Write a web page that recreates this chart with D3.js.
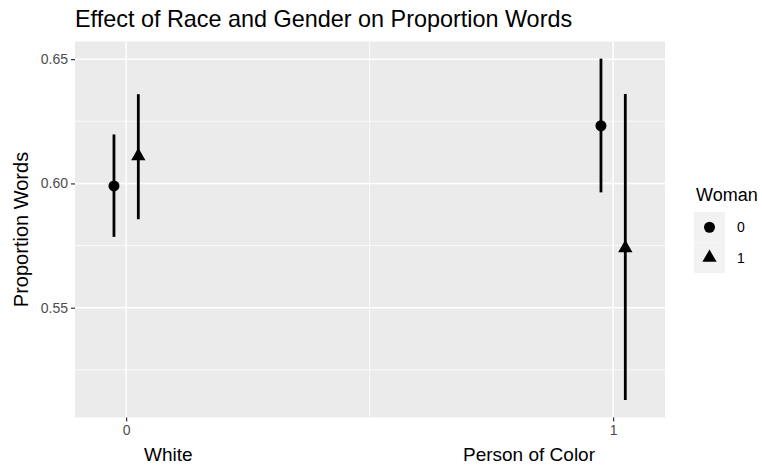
<!DOCTYPE html>
<html>
<head>
<meta charset="utf-8">
<script src="https://cdn.jsdelivr.net/npm/d3@7"></script>
<style>
  html, body { margin: 0; padding: 0; background: #ffffff; }
  svg { display: block; font-family: "Liberation Sans", Arial, Helvetica, sans-serif; }
</style>
</head>
<body>
<svg id="chart" width="762" height="466"></svg>
<script>
// Estimates of the proportion of words, by race (x) and gender (shape)
const raceCodes   = [0, 1];
const raceNames   = ["White", "Person of Color"];
const womanLevels = ["0", "1"];
const dodgeOffset = [-0.025, 0.025];           // position_dodge for woman = 0 / 1
const estimate    = [[0.599, 0.611], [0.6232, 0.574]];   // [race][woman]
const lower       = [[0.5785, 0.5856], [0.5964, 0.5129]];
const upper       = [[0.6197, 0.6359], [0.6502, 0.6360]];
const yTicks      = [0.55, 0.60, 0.65];
const yMinor      = [0.525, 0.575, 0.625];
const xTicks      = [0, 1];
const xMinor      = [0.5];

const rows = [];
raceCodes.forEach((r, i) => womanLevels.forEach((w, j) => {
  rows.push({ race: r, woman: w, x: r + dodgeOffset[j], est: estimate[i][j], lo: lower[i][j], hi: upper[i][j] });
}));

const svg = d3.select("#chart");
const panel = { left: 75, right: 665, top: 41.5, bottom: 417.5 };

const x = d3.scaleLinear().domain([-0.105, 1.1065]).range([panel.left, panel.right]);
const y = d3.scaleLinear().domain([0.50585, 0.65709]).range([panel.bottom, panel.top]);

// panel background
svg.append("rect")
  .attr("x", panel.left).attr("y", panel.top)
  .attr("width", panel.right - panel.left).attr("height", panel.bottom - panel.top)
  .attr("fill", "#ebebeb");

const grid = svg.append("g").attr("stroke", "#ffffff");
grid.selectAll(".ymin").data(yMinor).join("line")
  .attr("x1", panel.left).attr("x2", panel.right)
  .attr("y1", d => y(d)).attr("y2", d => y(d)).attr("stroke-width", 0.75);
grid.selectAll(".xmin").data(xMinor).join("line")
  .attr("y1", panel.top).attr("y2", panel.bottom)
  .attr("x1", d => x(d)).attr("x2", d => x(d)).attr("stroke-width", 0.75);
grid.selectAll(".ymaj").data(yTicks).join("line")
  .attr("x1", panel.left).attr("x2", panel.right)
  .attr("y1", d => y(d)).attr("y2", d => y(d)).attr("stroke-width", 1.5);
grid.selectAll(".xmaj").data(xTicks).join("line")
  .attr("y1", panel.top).attr("y2", panel.bottom)
  .attr("x1", d => x(d)).attr("x2", d => x(d)).attr("stroke-width", 1.5);

// axes
const yAxis = svg.append("g")
  .attr("transform", `translate(${panel.left},0)`)
  .call(d3.axisLeft(y).tickValues(yTicks).tickFormat(d3.format(".2f")).tickSize(4).tickPadding(3));
const xAxis = svg.append("g")
  .attr("transform", `translate(0,${panel.bottom})`)
  .call(d3.axisBottom(x).tickValues(xTicks).tickFormat(d3.format("d")).tickSize(4).tickPadding(4));
[yAxis, xAxis].forEach(a => {
  a.select(".domain").remove();
  a.selectAll(".tick line").attr("stroke", "#333333").attr("stroke-width", 1.2);
  a.selectAll(".tick text").attr("fill", "#4d4d4d").attr("font-size", 14)
    .attr("font-family", "Liberation Sans, Arial, sans-serif");
});

// error bars and points
const marks = svg.append("g");
marks.selectAll(".err").data(rows).join("line")
  .attr("x1", d => x(d.x)).attr("x2", d => x(d.x))
  .attr("y1", d => y(d.lo)).attr("y2", d => y(d.hi))
  .attr("stroke", "#000").attr("stroke-width", 2.8);

const shapeFor = w => w === "0" ? d3.symbolCircle : d3.symbolTriangle;
const sizeFor = w => w === "0" ? 95 : 88;
marks.selectAll(".pt").data(rows).join("path")
  .attr("transform", d => `translate(${x(d.x)},${y(d.est)})`)
  .attr("d", d => d3.symbol(shapeFor(d.woman), sizeFor(d.woman))())
  .attr("fill", "#000");

// title
svg.append("text")
  .attr("x", 75).attr("y", 26.5)
  .attr("font-size", 23.4).attr("fill", "#000")
  .text("Effect of Race and Gender on Proportion Words");

// y axis title
svg.append("text")
  .attr("transform", `translate(28,${(panel.top + panel.bottom) / 2}) rotate(-90)`)
  .attr("text-anchor", "middle")
  .attr("font-size", 20).attr("fill", "#000")
  .text("Proportion Words");

// x axis title: race labels spread across the panel
svg.append("text")
  .attr("x", 144).attr("y", 461)
  .attr("font-size", 19).attr("fill", "#000")
  .text(raceNames[0]);
svg.append("text")
  .attr("x", 595).attr("y", 461).attr("text-anchor", "end")
  .attr("font-size", 19).attr("fill", "#000")
  .text(raceNames[1]);

// legend
const legend = svg.append("g");
legend.append("text")
  .attr("x", 696).attr("y", 200.5)
  .attr("font-size", 18).attr("fill", "#000")
  .text("Woman");
const keyH = 30.5;
const keys = legend.selectAll(".key").data(womanLevels).join("g")
  .attr("transform", (d, i) => `translate(694,${212 + i * keyH})`);
keys.append("rect")
  .attr("width", 31).attr("height", keyH).attr("fill", "#f2f2f2");
keys.append("path")
  .attr("transform", `translate(15.5,${keyH / 2})`)
  .attr("d", d => d3.symbol(shapeFor(d), sizeFor(d))())
  .attr("fill", "#000");
keys.append("text")
  .attr("x", 43).attr("y", keyH / 2 + 5)
  .attr("font-size", 14).attr("fill", "#000")
  .text(d => d);
</script>
</body>
</html>
